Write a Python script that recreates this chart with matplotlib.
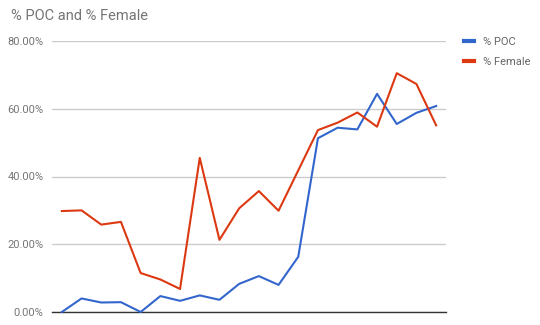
import matplotlib
matplotlib.use("Agg")
import matplotlib.pyplot as plt
from matplotlib.ticker import FuncFormatter

plt.rcParams['font.family'] = ['Roboto', 'DejaVu Sans']

# values (percent)
poc = [0.0, 4.0, 2.8, 2.9, 0.0, 4.7, 3.3, 4.9, 3.6, 8.3,
       10.6, 8.0, 16.3, 51.3, 54.4, 53.9, 64.4, 55.5, 58.8, 60.8]
female = [29.8, 30.0, 25.8, 26.6, 11.5, 9.6, 6.8, 45.5, 21.3, 30.6,
          35.7, 29.9, 41.8, 53.7, 55.9, 58.9, 54.7, 70.5, 67.3, 55.1]
yticks = [0, 20, 40, 60, 80]
x = list(range(len(poc)))

fig = plt.figure(figsize=(5.4, 3.25), dpi=100)
ax = fig.add_axes([52/540, 1 - 312/325, (446 - 52)/540, (312 - 41)/325])

ax.plot(x, poc, color='#3366cc', lw=1.5, label='% POC', clip_on=False, zorder=3)
ax.plot(x, female, color='#dc3912', lw=1.5, label='% Female', clip_on=False, zorder=3)

ax.set_xlim(-0.5, len(poc) - 0.5)
ax.set_ylim(0, 80)
ax.set_yticks(yticks)
ax.yaxis.set_major_formatter(FuncFormatter(lambda v, p: '%.2f%%' % v))
ax.set_xticks([])
ax.grid(axis='y', color='#cccccc', lw=1)
ax.set_axisbelow(True)
for s in ['top', 'right', 'left']:
    ax.spines[s].set_visible(False)
ax.spines['bottom'].set_color('#333333')
ax.spines['bottom'].set_linewidth(1)
ax.tick_params(axis='y', length=0, pad=6, labelsize=8, labelcolor='#757575')

fig.text(11/540, 1 - 16/325, '% POC and % Female', fontsize=10.5, color='#757575',
         va='center', ha='left')

leg = ax.legend(loc='upper left', bbox_to_anchor=(454/540, 1 - 27/325),
                bbox_transform=fig.transFigure, frameon=False, fontsize=8,
                handlelength=0.9, handletextpad=0.8, labelspacing=0.9,
                labelcolor='#666666')
for h in leg.get_lines():
    h.set_linewidth(3)

fig.savefig('out.png', dpi=100)
